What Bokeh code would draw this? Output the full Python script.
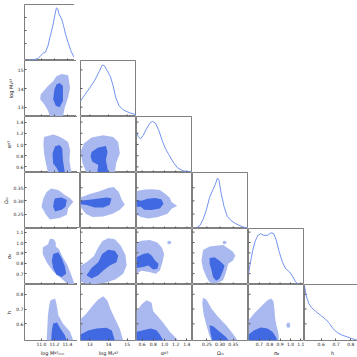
import math
from bokeh.plotting import figure
from bokeh.layouts import gridplot
from bokeh.models import Range1d, LinearAxis, FixedTicker
from bokeh.embed import file_html
from bokeh.resources import INLINE

# ---------------- parameters ----------------
names = ["log Mᵍ³ₘᵢₙ", "log M₁ᵍ³", "αᵍ³", "Ωₘ", "σ₈", "h"]
lo = [10.74, 12.5, 0.5, 0.195, 0.595, 0.487]
hi = [11.60, 15.5, 1.5, 0.408, 1.135, 0.866]
ticks = [[11.0, 11.2, 11.4], [13, 14, 15], [0.6, 0.8, 1.0, 1.2, 1.4],
         [0.25, 0.30, 0.35], [0.7, 0.8, 0.9, 1.0, 1.1], [0.6, 0.7, 0.8]]
tick_labels = [["11.0", "11.2", "11.4"], ["13", "14", "15"],
               ["0.6", "0.8", "1.0", "1.2", "1.4"], ["0.25", "0.30", "0.35"],
               ["0.7", "0.8", "0.9", "1.0", "1.1"], ["0.6", "0.7", "0.8"]]

# ---------------- marginal curves (diagonal) ----------------
m0x = [10.77, 10.87, 10.95, 10.99, 11.03, 11.06, 11.10, 11.13, 11.15, 11.18, 11.21, 11.23, 11.25, 11.27, 11.31, 11.34, 11.37, 11.41, 11.45, 11.49, 11.53]
m0y = [0.006, 0.012, 0.036, 0.09, 0.133, 0.145, 0.26, 0.41, 0.50, 0.65, 0.83, 0.94, 0.92, 0.83, 0.74, 0.62, 0.47, 0.32, 0.18, 0.08, 0.012]
m1x = [12.5, 12.73, 13.0, 13.27, 13.50, 13.66, 13.77, 13.93, 14.11, 14.25, 14.39, 14.57, 14.82, 15.14, 15.5]
m1y = [0.278, 0.385, 0.515, 0.651, 0.80, 0.917, 0.911, 0.822, 0.704, 0.544, 0.337, 0.189, 0.112, 0.065, 0.03]
m2x = [0.5, 0.53, 0.571, 0.619, 0.679, 0.738, 0.786, 0.839, 0.899, 0.959, 1.018, 1.077, 1.155, 1.232, 1.333, 1.48]
m2y = [0.72, 0.643, 0.60, 0.661, 0.78, 0.881, 0.911, 0.881, 0.75, 0.571, 0.423, 0.321, 0.185, 0.083, 0.03, 0.006]
m3x = [0.210, 0.223, 0.235, 0.248, 0.260, 0.273, 0.282, 0.290, 0.296, 0.304, 0.315, 0.327, 0.342, 0.361, 0.386, 0.405]
m3y = [0.012, 0.053, 0.158, 0.333, 0.556, 0.696, 0.789, 0.90, 0.86, 0.626, 0.392, 0.216, 0.14, 0.082, 0.029, 0.006]
m4x = [0.595, 0.612, 0.635, 0.66, 0.686, 0.712, 0.743, 0.779, 0.813, 0.839, 0.865, 0.89, 0.922, 0.954, 0.992, 1.023, 1.049, 1.075]
m4y = [0.193, 0.38, 0.602, 0.778, 0.877, 0.906, 0.877, 0.877, 0.924, 0.906, 0.778, 0.591, 0.398, 0.281, 0.222, 0.135, 0.047, 0.006]
m5x = [0.487, 0.494, 0.503, 0.516, 0.534, 0.561, 0.595, 0.629, 0.656, 0.679, 0.708, 0.742, 0.776, 0.805, 0.844]
m5y = [0.976, 0.869, 0.762, 0.661, 0.589, 0.524, 0.452, 0.381, 0.304, 0.214, 0.143, 0.095, 0.065, 0.036, 0.006]

# ---------------- 2D credible regions: outer (95%) and inner (68%) ----------------
o10x = [11.31, 11.41, 11.44, 11.41, 11.36, 11.33, 11.13, 11.10, 11.04, 10.98, 10.99, 11.10, 11.18, 11.23]
o10y = [14.78, 14.71, 14.04, 13.52, 12.99, 12.5, 12.5, 12.82, 13.17, 13.43, 13.69, 14.13, 14.39, 14.66]
i10x = [11.28, 11.33, 11.33, 11.28, 11.22, 11.18, 11.20, 11.23]
i10y = [14.3, 14.13, 13.34, 12.99, 13.08, 13.43, 13.96, 14.22]

o20x = [11.04, 11.18, 11.26, 11.33, 11.41, 11.44, 11.43, 11.46, 11.10, 11.07, 11.04, 11.03]
o20y = [1.134, 1.18, 1.146, 1.105, 1.045, 0.90, 0.72, 0.50, 0.50, 0.66, 0.84, 1.02]
i20x = [11.21, 11.28, 11.32, 11.33, 11.36, 11.27, 11.23, 11.18, 11.17]
i20y = [0.97, 0.99, 0.93, 0.72, 0.50, 0.50, 0.59, 0.66, 0.84]

o30x = [11.15, 11.26, 11.36, 11.44, 11.49, 11.41, 11.39, 11.28, 11.13, 11.07, 11.0, 11.03, 11.08]
o30y = [0.347, 0.341, 0.322, 0.310, 0.297, 0.272, 0.247, 0.235, 0.229, 0.247, 0.278, 0.310, 0.334]
i30x = [11.21, 11.31, 11.39, 11.37, 11.31, 11.21, 11.18, 11.19]
i30y = [0.310, 0.313, 0.303, 0.278, 0.266, 0.260, 0.278, 0.297]

o40x = [11.02, 11.10, 11.13, 11.19, 11.22, 11.22, 11.27, 11.32, 11.40, 11.46, 11.51, 11.41, 11.28, 11.18, 11.08, 11.02]
o40y = [0.952, 0.983, 1.037, 1.031, 0.999, 0.962, 0.936, 0.867, 0.78, 0.683, 0.595, 0.595, 0.668, 0.721, 0.81, 0.889]
i40x = [11.18, 11.26, 11.31, 11.36, 11.38, 11.31, 11.23, 11.18, 11.16]
i40y = [0.889, 0.905, 0.848, 0.772, 0.699, 0.668, 0.69, 0.753, 0.825]

o50x = [11.14, 11.21, 11.23, 11.26, 11.33, 11.44, 11.49, 11.08, 11.09, 11.10, 11.12]
o50y = [0.760, 0.771, 0.737, 0.658, 0.602, 0.546, 0.487, 0.487, 0.568, 0.658, 0.726]
i50x = [11.18, 11.24, 11.29, 11.36, 11.39, 11.15, 11.16]
i50y = [0.602, 0.609, 0.568, 0.523, 0.487, 0.487, 0.557]

o21x = [12.68, 13.09, 13.72, 14.25, 14.52, 14.61, 14.43, 14.34, 12.82, 12.61, 12.5]
o21y = [1.017, 1.123, 1.164, 1.134, 1.045, 0.84, 0.691, 0.50, 0.50, 0.663, 0.868]
i21x = [13.09, 13.45, 13.86, 13.95, 13.86, 13.93, 13.98, 13.40, 13.45, 13.14, 13.04]
i21y = [0.868, 0.946, 0.974, 0.868, 0.721, 0.603, 0.50, 0.50, 0.633, 0.691, 0.78]

o31x = [12.5, 13.0, 13.53, 13.98, 14.28, 14.55, 14.70, 14.87, 14.61, 14.22, 13.72, 13.14, 12.78, 12.5]
o31y = [0.313, 0.326, 0.337, 0.349, 0.353, 0.334, 0.306, 0.285, 0.266, 0.251, 0.241, 0.239, 0.251, 0.278]
i31x = [12.5, 13.18, 13.89, 14.16, 14.07, 13.72, 13.27, 12.82, 12.5]
i31y = [0.301, 0.306, 0.313, 0.310, 0.285, 0.275, 0.275, 0.284, 0.287]

o41x = [12.5, 12.82, 13.21, 13.45, 13.68, 13.98, 14.34, 14.64, 14.91, 14.97, 14.79, 14.39, 13.89, 13.27, 12.78, 12.5]
o41y = [0.778, 0.81, 0.867, 0.952, 1.015, 1.04, 1.031, 0.974, 0.879, 0.778, 0.699, 0.645, 0.614, 0.598, 0.605, 0.621]
i41x = [12.82, 13.09, 13.45, 13.66, 13.98, 14.34, 14.52, 14.43, 14.07, 13.72, 13.45, 13.09]
i41y = [0.683, 0.753, 0.81, 0.889, 0.93, 0.92, 0.873, 0.81, 0.778, 0.731, 0.683, 0.652]

o51x = [12.5, 12.82, 13.14, 13.45, 13.72, 13.93, 14.11, 14.36, 14.61, 14.79, 12.5]
o51y = [0.631, 0.670, 0.722, 0.764, 0.787, 0.760, 0.699, 0.631, 0.564, 0.487, 0.487]
i51x = [12.5, 12.91, 13.36, 13.89, 14.18, 14.34, 12.5]
i51y = [0.528, 0.555, 0.568, 0.573, 0.555, 0.487, 0.487]

o32x = [0.50, 0.649, 0.78, 0.917, 1.006, 1.095, 1.125, 1.226, 1.125, 1.054, 0.887, 0.709, 0.577, 0.50]
o32y = [0.338, 0.343, 0.344, 0.341, 0.328, 0.312, 0.296, 0.281, 0.270, 0.251, 0.239, 0.233, 0.239, 0.247]
i32x = [0.50, 0.589, 0.696, 0.827, 0.946, 0.982, 0.917, 0.768, 0.637, 0.577, 0.50]
i32y = [0.303, 0.301, 0.308, 0.311, 0.306, 0.288, 0.271, 0.265, 0.266, 0.278, 0.278]

o42x = [0.50, 0.589, 0.738, 0.87, 0.952, 0.994, 0.964, 0.917, 0.845, 0.726, 0.589, 0.50]
o42y = [1.0, 1.018, 1.024, 1.0, 0.952, 0.889, 0.81, 0.731, 0.699, 0.715, 0.728, 0.699]
i42x = [0.50, 0.619, 0.709, 0.774, 0.834, 0.893, 0.875, 0.798, 0.709, 0.619, 0.50]
i42y = [0.857, 0.889, 0.898, 0.873, 0.825, 0.794, 0.747, 0.74, 0.778, 0.763, 0.753]

o52x = [0.50, 0.589, 0.679, 0.768, 0.798, 0.887, 0.988, 1.095, 1.214, 1.244, 0.50]
o52y = [0.681, 0.731, 0.760, 0.744, 0.685, 0.647, 0.602, 0.546, 0.5, 0.487, 0.487]
i52x = [0.50, 0.619, 0.75, 0.857, 0.917, 0.977, 0.50]
i52y = [0.546, 0.557, 0.568, 0.557, 0.528, 0.487, 0.487]

o43x = [0.235, 0.260, 0.292, 0.313, 0.326, 0.348, 0.358, 0.348, 0.331, 0.321, 0.311, 0.285, 0.260, 0.248, 0.235, 0.229]
o43y = [0.927, 0.962, 0.971, 0.977, 0.952, 0.914, 0.873, 0.825, 0.794, 0.699, 0.636, 0.605, 0.614, 0.668, 0.747, 0.825]
i43x = [0.260, 0.279, 0.298, 0.317, 0.311, 0.298, 0.285, 0.273, 0.267, 0.260]
i43y = [0.851, 0.858, 0.825, 0.778, 0.725, 0.652, 0.63, 0.668, 0.737, 0.794]

o53x = [0.235, 0.248, 0.267, 0.292, 0.323, 0.348, 0.367, 0.267, 0.258, 0.248, 0.238, 0.232]
o53y = [0.776, 0.764, 0.704, 0.647, 0.591, 0.534, 0.487, 0.487, 0.528, 0.591, 0.658, 0.737]
i53x = [0.260, 0.275, 0.298, 0.321, 0.333, 0.270, 0.263]
i53y = [0.591, 0.582, 0.546, 0.512, 0.487, 0.487, 0.541]

o54x = [0.595, 0.65, 0.714, 0.778, 0.813, 0.836, 0.845, 0.851, 0.865, 0.884, 0.889, 0.595]
o54y = [0.624, 0.670, 0.715, 0.760, 0.771, 0.753, 0.699, 0.641, 0.586, 0.534, 0.487, 0.487]
i54x = [0.595, 0.65, 0.714, 0.778, 0.826, 0.858, 0.874, 0.595]
i54y = [0.528, 0.557, 0.575, 0.568, 0.546, 0.512, 0.487, 0.487]

# small detached outer-level islands: (row, col, x, y)
island_rc = [(4, 2), (4, 3), (5, 4)]
island_x = [1.084, 0.317, 0.979]
island_y = [1.0, 1.0, 0.591]

# ---------------- assemble ----------------
marg = [(m0x, m0y), (m1x, m1y), (m2x, m2y), (m3x, m3y), (m4x, m4y), (m5x, m5y)]
regions = {
    (1, 0): (o10x, o10y, i10x, i10y), (2, 0): (o20x, o20y, i20x, i20y),
    (3, 0): (o30x, o30y, i30x, i30y), (4, 0): (o40x, o40y, i40x, i40y),
    (5, 0): (o50x, o50y, i50x, i50y), (2, 1): (o21x, o21y, i21x, i21y),
    (3, 1): (o31x, o31y, i31x, i31y), (4, 1): (o41x, o41y, i41x, i41y),
    (5, 1): (o51x, o51y, i51x, i51y), (3, 2): (o32x, o32y, i32x, i32y),
    (4, 2): (o42x, o42y, i42x, i42y), (5, 2): (o52x, o52y, i52x, i52y),
    (4, 3): (o43x, o43y, i43x, i43y), (5, 3): (o53x, o53y, i53x, i53y),
    (5, 4): (o54x, o54y, i54x, i54y),
}

FONT = "DejaVu Sans"
LIGHT = "#a9b9f0"
DARK = "#4169e1"
LINE = "#7393f2"
EDGE = "#808080"
TICK = "#555555"
N = 6
FW = 56
FH = 56
TOP = 4
LEFT = 18
BOTTOM = 15


def add_axis(p, side, k):
    ax = LinearAxis(ticker=FixedTicker(ticks=ticks[k]))
    ax.axis_line_color = None
    ax.major_tick_in = 2
    ax.major_tick_out = 0
    ax.minor_tick_in = 0
    ax.minor_tick_out = 0
    ax.major_tick_line_color = TICK
    ax.major_tick_line_width = 1
    ax.major_label_text_font = FONT
    ax.major_label_text_font_size = "4.5px"
    ax.major_label_text_color = "#222222"
    ax.major_label_standoff = 1
    ax.major_label_overrides = {float(t): s for t, s in zip(ticks[k], tick_labels[k])}
    ax.axis_label = names[k]
    ax.axis_label_text_font = FONT
    ax.axis_label_text_font_size = "5px"
    ax.axis_label_text_font_style = "normal"
    ax.axis_label_text_color = "#222222"
    ax.axis_label_standoff = 1
    p.add_layout(ax, side)


def inner_ticks(p, r, c, diag):
    # short inward tick marks at the parameter ticks (clipped to the frame)
    if r < N - 1:
        p.scatter(ticks[c], [0 if diag else lo[r]] * len(ticks[c]), marker="dash",
                  size=4, angle=math.pi / 2, line_color=TICK, line_width=1)
    if c > 0 or diag:
        ys = ticks[r]
        xs = [lo[c]] * len(ys)
        kw = dict(y_range_name="param") if diag else {}
        p.scatter(xs, ys, marker="dash", size=4, line_color=TICK, line_width=1, **kw)


def make_panel(r, c):
    diag = r == c
    p = figure(
        frame_width=FW, frame_height=FH,
        x_range=Range1d(lo[c], hi[c]),
        y_range=Range1d(0, 1.0) if diag else Range1d(lo[r], hi[r]),
        output_backend="svg", toolbar_location=None,
        x_axis_location=None, y_axis_location=None,
        min_border=0,
        min_border_top=TOP if r == 0 else 0,
        min_border_left=LEFT if c == 0 else 0,
        min_border_bottom=BOTTOM if r == N - 1 else 0,
    )
    p.grid.visible = False
    p.outline_line_color = EDGE
    p.outline_line_width = 1
    p.background_fill_color = "white"
    p.border_fill_color = "white"

    if diag:
        p.extra_y_ranges = {"param": Range1d(lo[r], hi[r])}
        mx, my = marg[r]
        p.line(mx, my, line_color=LINE, line_width=1)
    else:
        ox, oy, ix, iy = regions[(r, c)]
        p.patch(ox, oy, fill_color=LIGHT, line_color=None)
        for (rr, cc), xx, yy in zip(island_rc, island_x, island_y):
            if (rr, cc) == (r, c):
                p.ellipse([xx], [yy], width=(hi[c] - lo[c]) * 0.07,
                          height=(hi[r] - lo[r]) * 0.09 if (r, c) == (5, 4) else (hi[r] - lo[r]) * 0.06,
                          fill_color=LIGHT, line_color=None)
        p.patch(ix, iy, fill_color=DARK, line_color=None)
    inner_ticks(p, r, c, diag)
    if c == 0 and not diag:
        add_axis(p, "left", r)
    if r == N - 1:
        add_axis(p, "below", c)
    return p


rows = []
for r in range(N):
    rows.append([make_panel(r, c) if c <= r else None for c in range(N)])

grid = gridplot(rows, toolbar_location=None)

open("out.html", "w").write(file_html(grid, INLINE, title="corner"))
